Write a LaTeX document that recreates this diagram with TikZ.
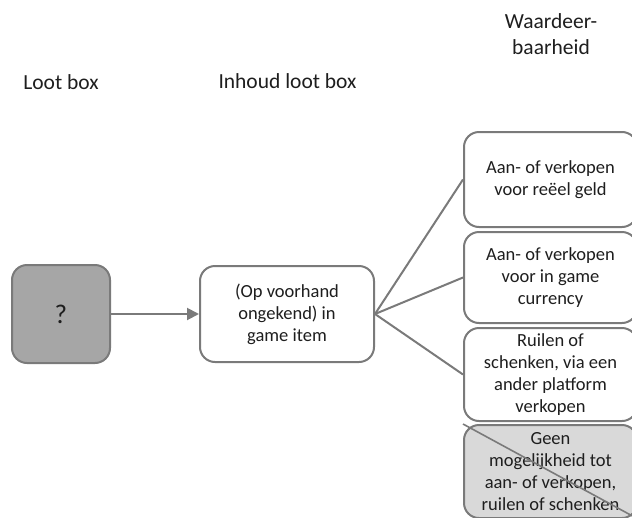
\documentclass[tikz,border=0pt]{standalone}
\usepackage{fontspec}
\setmainfont{Carlito}
\usetikzlibrary{arrows.meta}
\definecolor{edgegrey}{HTML}{7A7A7A}
\definecolor{darkfill}{HTML}{A6A6A6}
\definecolor{lightfill}{HTML}{D9D9D9}
\definecolor{txt}{HTML}{1E1E1E}
\tikzset{
  card/.style={draw=edgegrey, line width=2pt, rounded corners=15pt, fill=white,
    align=center, text=txt, inner sep=0pt,
    font=\fontsize{18.5}{22}\selectfont},
  header/.style={align=center, text=txt, inner sep=0pt,
    font=\fontsize{21.5}{25.5}\selectfont},
  link/.style={draw=edgegrey, line width=2pt},
}
\begin{document}
\begin{tikzpicture}[x=1pt, y=-1pt]
  \path[use as bounding box, clip] (0,0) rectangle (632,517);

  % column headings
  \node[header] (hbox)  at (61,82)  {Loot box};
  \node[header] (hcont) at (287.5,81) {Inhoud loot box};
  \node[header] (hval)  at (551,34) {Waardeer-\\baarheid};

  % loot box and its content
  \node[card, fill=darkfill, minimum width=98pt, minimum height=98pt,
        font=\fontsize{27}{30}\selectfont] (box) at (61,314) {?};
  \node[card, minimum width=174pt, minimum height=96pt] (item) at (287,314)
    {(Op voorhand\\ongekend) in\\game item};

  % ways of valuing the item
  \node[card, minimum width=173pt, minimum height=95pt] (v1) at (550.5,179.5)
    {Aan- of verkopen\\voor reëel geld};
  \node[card, minimum width=173pt, minimum height=91pt] (v2) at (550.5,277.5)
    {Aan- of verkopen\\voor in game\\currency};
  \node[card, minimum width=173pt, minimum height=93pt] (v3) at (550.5,374.5)
    {Ruilen of\\schenken, via een\\ander platform\\verkopen};
  \node[card, fill=lightfill, minimum width=173pt, minimum height=93pt] (v4) at (550.5,471.5)
    {Geen\\mogelijkheid tot\\aan- of verkopen,\\ruilen of schenken};

  % connectors
  \draw[link, -{Triangle[length=12pt, width=12pt]}] (box.east) -- (item.west);
  \draw[link] (item.east) -- (v1.west);
  \draw[link] (item.east) -- (v2.west);
  \draw[link] (item.east) -- (v3.west);

  % strike-through of the last option
  \draw[link, line width=1.6pt] (v4.north west) -- (v4.south east);
\end{tikzpicture}
\end{document}
